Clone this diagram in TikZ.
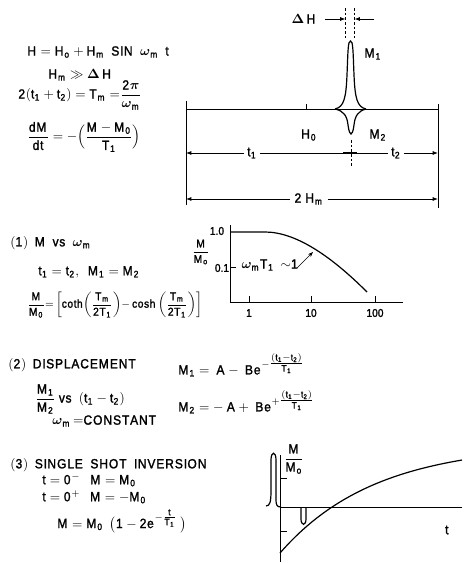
\documentclass[tikz,border=0pt]{standalone}
\usepackage{amsmath}
\usepackage{fontspec}
\setmainfont{Liberation Sans}[FakeBold=1.6,FakeStretch=0.9]
\usetikzlibrary{arrows.meta}
\newcommand{\mr}[1]{\mathrm{#1}}
\newcommand{\wm}{\boldsymbol{\omega}_\mr{m}}
\begin{document}
\begin{tikzpicture}[x=0.75pt,y=-0.75pt,line width=0.6pt,
  txt/.style={inner sep=0pt,anchor=west,font=\fontsize{10}{11}\selectfont},
  lbl/.style={inner sep=0pt,font=\fontsize{10}{11}\selectfont},
  small/.style={inner sep=0pt,font=\fontsize{8.5}{9}\selectfont},
  arr/.style={-{Latex[length=4pt,width=3pt]}},
  dsh/.style={dashed,dash pattern=on 2pt off 1.5pt,line width=0.4pt},
  crv/.style={line width=0.9pt}]
\useasboundingbox (0,0) rectangle (468,563);

% ---------- left formulas ----------
\node[txt] (e1) at (27,52) {$\mr{H = H_o + H_m\ \ SIN\ \ }\wm\ \ \mr{t}$};
\node[txt] (e2) at (48,75) {$\mr{H_m} \gg \boldsymbol{\Delta}\,\mr{H}$};
\node[txt] (e3) at (18,95) {$\mr{2(t_1+t_2) = T_m = }\dfrac{\mr{2}\boldsymbol{\pi}}{\wm}$};
\node[txt] (e4) at (27,137) {$\dfrac{\mr{dM}}{\mr{dt}} = -\Bigl(\dfrac{\mr{M-M_0}}{\mr{T_1}}\Bigr)$};

% ---------- top diagram ----------
\coordinate (bl) at (186,109);
\coordinate (br) at (438,109);
\draw (bl) -- (br);
\draw (186,101) -- (186,205);
\draw (438,104) -- (438,208);
\draw (306,104) -- (306,109);
% M1 peak
\draw[crv] (335,109) .. controls (344,107) and (346,98) .. (347,75)
  .. controls (348,50) and (348,41) .. (350.5,41)
  .. controls (353,41) and (353,50) .. (354,75)
  .. controls (355,98) and (357,107) .. (366,109);
% M2 dip
\draw[crv] (335,109) .. controls (344,111) and (347,116) .. (348,125)
  .. controls (349,132) and (350,134) .. (351,134)
  .. controls (352,134) and (353,132) .. (354,125)
  .. controls (355,116) and (358,111) .. (366,109);
% Delta H
\draw[dsh] (345.5,8) -- (345.5,38);
\draw[dsh] (354.5,8) -- (354.5,38);
\node[lbl] (dh) at (304,19) {$\boldsymbol{\Delta}\,\mr{H}$};
\coordinate (dha) at (345.5,19);
\coordinate (dhb) at (354.5,19);
\coordinate (dhr) at (374,19);
\draw[arr] (325,19) -- (dha);
\draw[arr] (dhr) -- (dhb);
\node[lbl] (m1) at (373,54) {$\mr{M_1}$};
\node[lbl] (h0) at (309,135) {$\mr{H_0}$};
\node[lbl] (m2) at (378,135) {$\mr{M_2}$};
% t1 t2 row
\node[lbl,fill=white,inner sep=2pt] (t1) at (252,153) {$\mr{t_1}$};
\node[lbl,fill=white,inner sep=2pt] (t2) at (396,153) {$\mr{t_2}$};
\coordinate (t1l) at (186,153);
\coordinate (t2r) at (438,153);
\coordinate (sa) at (343,153);
\coordinate (sb) at (357,153);
\draw[arr] (t1.west) -- (t1l);
\draw (t1.east) -- (sa);
\draw[line width=2pt] (sa) -- (sb);
\draw (sb) -- (t2.west);
\draw[arr] (t2.east) -- (t2r);
\draw[dsh] (351,140) -- (351,168);
% 2Hm row
\node[lbl,fill=white,inner sep=3pt] (hm) at (309,199) {$\mr{2\ H_m}$};
\coordinate (hml) at (186,199);
\coordinate (hmr) at (438,199);
\draw[arr] (hm.west) -- (hml);
\draw[arr] (hm.east) -- (hmr);

% ---------- section 1 ----------
\node[txt] (s1) at (10,243) {$\mr{(1)\ \ M\ \ vs\ \ }\wm$};
\node[txt] (s1a) at (38,272) {$\mr{t_1 = t_2,\ \ M_1 = M_2}$};
\node[txt,font=\fontsize{8.5}{9}\selectfont] (s1b) at (27,305) {$\dfrac{\mr{M}}{\mr{M_0}} {=} \left[\mr{coth}\!\left(\dfrac{\mr{T_m}}{\mr{2T_1}}\right)\!{-}\,\mr{cosh}\left(\dfrac{\mr{T_m}}{\mr{2T_1}}\right)\right]$};

% graph 1
\coordinate (g1o) at (230,302);
\coordinate (g1t) at (230,225);
\coordinate (g1r) at (403,302);
\draw (g1t) -- (g1o) -- (g1r);
\draw (249,302) -- (249,296);
\draw (311,302) -- (311,296);
\draw (375,302) -- (375,296);
\draw (230,267) -- (236,267);
\node[small] (x1) at (249,313) {1};
\node[small] (x10) at (311,313) {10};
\node[small] (x100) at (375,313) {100};
\node[small] (y1) at (217,231) {1.0};
\node[small] (y01) at (222,268) {0.1};
\node[small] (ym) at (201,252) {$\dfrac{\mr{M}}{\mr{M_o}}$};
\draw[crv] (230,232) -- (265,232) .. controls (295,232) and (330,255) .. (367,292);
\node[lbl] (wt) at (270,265) {$\wm\mr{T_1}\ \ {\sim}\mr{1}$};
\coordinate (wp) at (313,252);
\draw[-{Stealth[length=4pt,width=3pt]},line width=0.5pt] (297,268) -- (wp);

% ---------- section 2 ----------
\node[txt] (s2) at (8,365) {$\mr{(2)\ \ DISPLACEMENT}$};
\node[txt] (s2a) at (178,365) {$\mr{M_1 = \ A - \ Be}^{-\tfrac{\mr{(t_1-t_2)}}{\mr{T_1}}}$};
\node[txt] (s2b) at (35,399) {$\dfrac{\mr{M_1}}{\mr{M_2}}\ \mr{vs\ \ (t_1 - t_2)}$};
\node[txt] (s2c) at (52,421) {$\wm\,\mr{{=}CONSTANT}$};
\node[txt] (s2d) at (178,402) {$\mr{M_2 = - \ A + \ Be}^{+\tfrac{\mr{(t_1-t_2)}}{\mr{T_1}}}$};

% ---------- section 3 ----------
\node[txt] (s3) at (10,465) {$\mr{(3)\ \ SINGLE\ \ SHOT\ \ INVERSION}$};
\node[txt] (s3a) at (42,480) {$\mr{t = 0^-\ \ \ M = M_0}$};
\node[txt] (s3b) at (42,497) {$\mr{t = 0^+\ \ \ M = {-}M_0}$};
\node[txt] (s3c) at (57,521) {$\mr{M = M_0\ \ }\bigl(\mr{1 - 2e}^{-\tfrac{\mr{t}}{\mr{T_1}}}\ \bigr)$};

% graph 3
\coordinate (g3t) at (280,455);
\coordinate (g3b) at (280,562);
\coordinate (g3o) at (280,507);
\coordinate (g3r) at (462,507);
\draw (g3t) -- (g3b);
\draw (g3o) -- (g3r);
\draw (280,478) -- (287,478);
\draw (280,531) -- (287,531);
\draw[crv] (266,506) .. controls (270,506) and (271,502) .. (271,490) -- (271,460)
  .. controls (271,451) and (276,451) .. (276,460) -- (276,500)
  .. controls (276,505) and (277,507) .. (281,507);
\draw[crv] (301,507) -- (301,519) .. controls (301,526) and (306,526) .. (306,519) -- (306,507);
\draw[crv] plot[domain=0:182,samples=60,variable=\t] ({280+\t},{444+109*exp(-\t/95)});
\node[lbl] (m3) at (294,459) {$\dfrac{\mr{M}}{\mr{M_o}}$};
\node[lbl] (tt) at (447,530) {$\mr{t}$};
\end{tikzpicture}
\end{document}
